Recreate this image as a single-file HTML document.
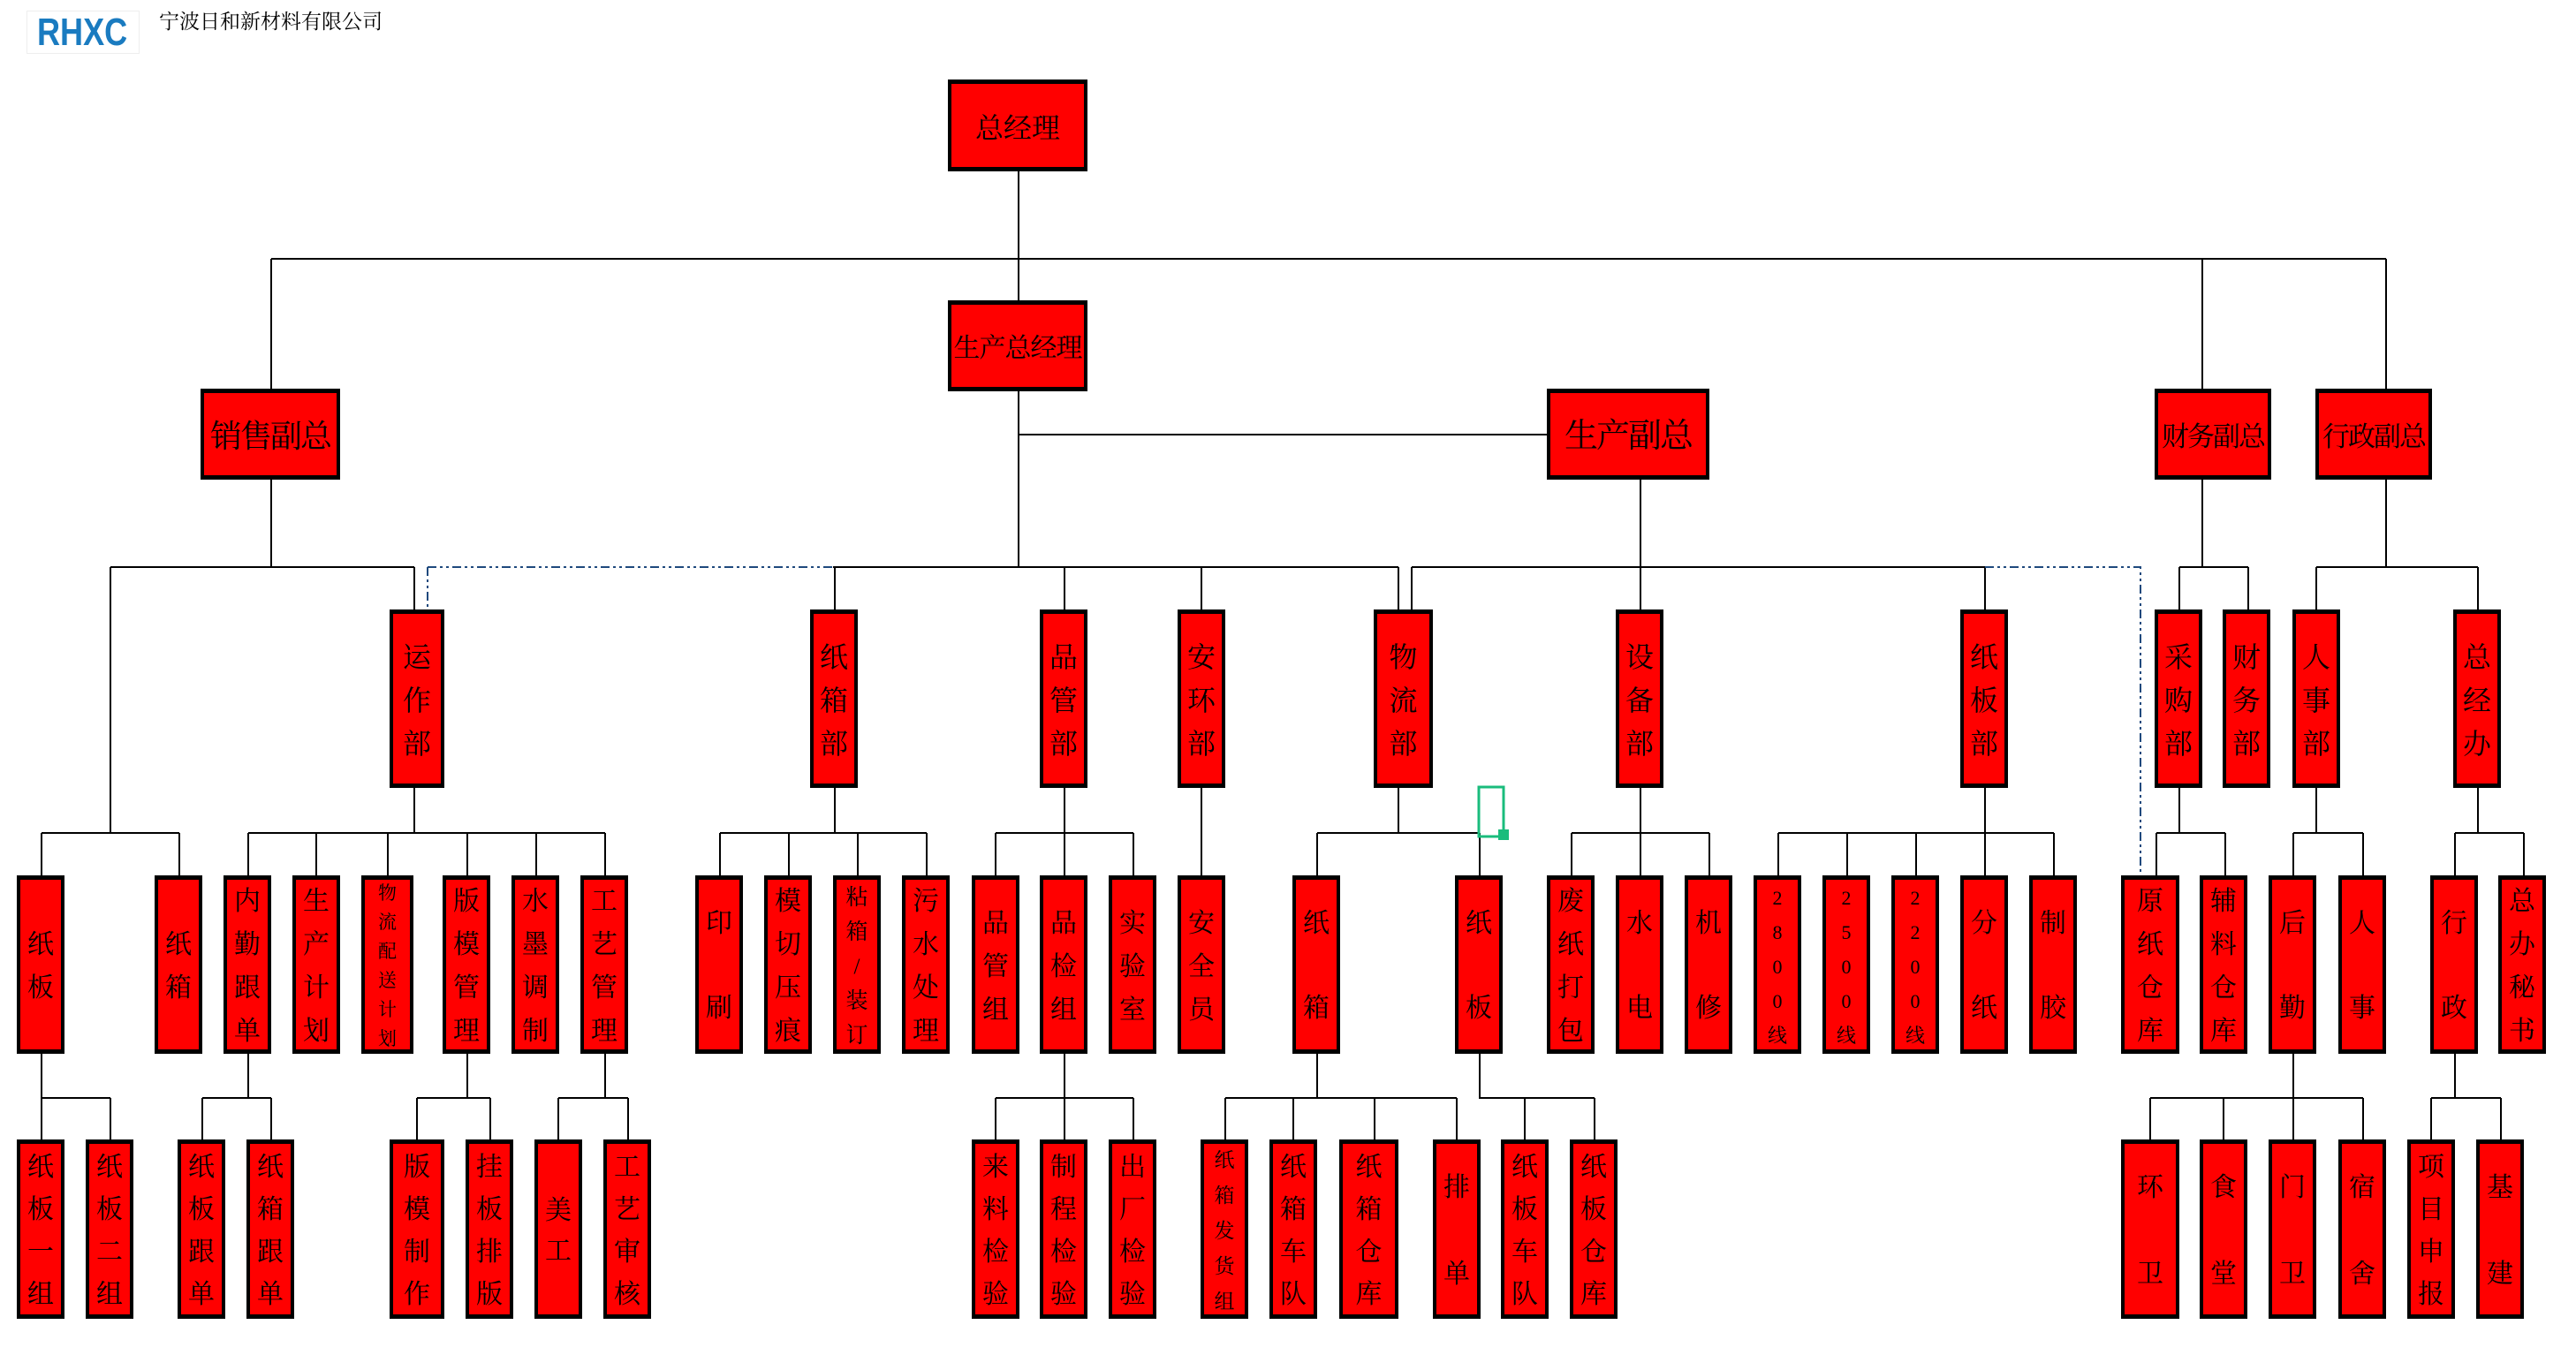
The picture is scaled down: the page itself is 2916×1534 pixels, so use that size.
<!DOCTYPE html>
<html><head><meta charset="utf-8"><style>
html,body{margin:0;padding:0;background:#fff;}
body{width:2916px;height:1534px;position:relative;overflow:hidden;}
.b{position:absolute;background:#ff0000;border:4px solid #000;border-top-width:5px;border-bottom-width:5px;box-sizing:border-box;display:flex;align-items:center;justify-content:center;text-align:center;font-family:"Liberation Serif","Noto Serif CJK SC",serif;color:#000;font-size:30px;line-height:49px;padding-top:4px;}
.l1{top:690px;height:202px;font-size:32px;line-height:49px;}
.l2{top:991px;height:202px;}
.l3{top:1290px;height:203px;line-height:48px;}
.w{line-height:96px;}
.h{font-size:32px;white-space:nowrap;padding-top:6px;}
</style></head><body>
<svg width="2916" height="1534" style="position:absolute;left:0;top:0" xmlns="http://www.w3.org/2000/svg">
<g stroke="#000" stroke-width="2" fill="none">
<path d="M1153 194V340M1153 443V642M307 293H2701M307 293V440M307 543V642M2493 293V440M2493 543V642M2701 293V440M2701 543V642M1153 492H1751M1857 543V642"/>
<path d="M125 642H469M943 642H1583M1598 642H2247"/>
<path d="M469 642V690M945 642V690M1205 642V690M1360 642V690M1583 642V690M1598 642V690M1857 642V690M2247 642V690"/>
<path d="M2467 642H2545M2467 642V690M2545 642V690M2622 642H2805M2622 642V690M2805 642V690"/>
<path d="M125 642V943M47 943H203M47 943V991M203 943V991"/>
<path d="M469 892V943M281 943H685M281 943V991M358 943V991M439 943V991M529 943V991M607 943V991M685 943V991"/>
<path d="M945 892V943M815 943H1049M815 943V991M893 943V991M971 943V991M1049 943V991"/>
<path d="M1205 892V991M1127 943H1283M1127 943V991M1283 943V991M1360 892V991"/>
<path d="M1583 892V943M1491 943H1675M1491 943V991M1675 943V991"/>
<path d="M1857 892V991M1779 943H1935M1779 943V991M1935 943V991"/>
<path d="M2247 892V991M2013 943H2325M2013 943V991M2091 943V991M2169 943V991M2325 943V991"/>
<path d="M2467 892V943M2441 943H2519M2441 943V991M2519 943V991"/>
<path d="M2622 892V943M2596 943H2675M2596 943V991M2675 943V991"/>
<path d="M2805 892V943M2779 943H2857M2779 943V991M2857 943V991"/>
<path d="M47 1193V1290M47 1243H125M125 1243V1290"/>
<path d="M281 1193V1243M229 1243H307M229 1243V1290M307 1243V1290"/>
<path d="M529 1193V1243M472 1243H555M472 1243V1290M555 1243V1290"/>
<path d="M685 1193V1243M632 1243H711M632 1243V1290M711 1243V1290"/>
<path d="M1205 1193V1290M1127 1243H1283M1127 1243V1290M1283 1243V1290"/>
<path d="M1491 1193V1243M1387 1243H1649M1387 1243V1290M1464 1243V1290M1556 1243V1290M1649 1243V1290"/>
<path d="M1675 1193V1243H1805M1726 1243V1290M1805 1243V1290"/>
<path d="M2596 1193V1290M2434 1243H2675M2434 1243V1290M2517 1243V1290M2675 1243V1290"/>
<path d="M2779 1193V1243M2752 1243H2831M2752 1243V1290M2831 1243V1290"/>
</g>
<g stroke="#1f497d" stroke-width="2" fill="none" stroke-dasharray="10 4 3 4 3 4">
<path d="M484 642H943M484 642V690M2247 642H2423V991"/>
</g>
<rect x="1674" y="891" width="28" height="56" fill="none" stroke="#1abc7c" stroke-width="3"/>
<rect x="1696" y="939" width="12" height="12" fill="#1abc7c"/>
</svg>

<div style="position:absolute;left:30px;top:12px;width:128px;height:49px;border:1px solid #eee;box-sizing:border-box;"></div>
<div style="position:absolute;left:42px;top:12px;font-family:'Liberation Sans',sans-serif;font-weight:bold;font-size:44px;color:#1a7bc0;transform:scaleX(0.82);transform-origin:left top;">RHXC</div>
<div style="position:absolute;left:180px;top:6px;font-family:'Liberation Serif','Noto Serif CJK SC',serif;font-size:23px;color:#000;white-space:nowrap;">宁波日和新材料有限公司</div>

<div class="b h" style="left:1073px;top:90px;width:158px;height:104px;">总经理</div>
<div class="b h" style="left:1073px;top:340px;width:158px;height:103px;font-size:30px;letter-spacing:-1px;">生产总经理</div>
<div class="b h" style="left:227px;top:440px;width:158px;height:103px;font-size:36px;letter-spacing:-2px;">销售副总</div>
<div class="b h" style="left:1751px;top:440px;width:184px;height:103px;font-size:38px;letter-spacing:-2px;">生产副总</div>
<div class="b h" style="left:2439px;top:440px;width:132px;height:103px;font-size:31px;letter-spacing:-2px;">财务副总</div>
<div class="b h" style="left:2621px;top:440px;width:132px;height:103px;font-size:31px;letter-spacing:-2px;">行政副总</div>

<div class="b l1" style="left:441px;width:62px;">运<br>作<br>部</div>
<div class="b l1" style="left:917px;width:54px;">纸<br>箱<br>部</div>
<div class="b l1" style="left:1177px;width:54px;">品<br>管<br>部</div>
<div class="b l1" style="left:1333px;width:54px;">安<br>环<br>部</div>
<div class="b l1" style="left:1555px;width:67px;">物<br>流<br>部</div>
<div class="b l1" style="left:1829px;width:54px;">设<br>备<br>部</div>
<div class="b l1" style="left:2219px;width:54px;">纸<br>板<br>部</div>
<div class="b l1" style="left:2439px;width:54px;">采<br>购<br>部</div>
<div class="b l1" style="left:2516px;width:54px;">财<br>务<br>部</div>
<div class="b l1" style="left:2595px;width:54px;">人<br>事<br>部</div>
<div class="b l1" style="left:2777px;width:54px;">总<br>经<br>办</div>

<div class="b l2" style="left:19px;width:54px;">纸<br>板</div>
<div class="b l2" style="left:175px;width:54px;">纸<br>箱</div>
<div class="b l2" style="left:253px;width:54px;">内<br>勤<br>跟<br>单</div>
<div class="b l2" style="left:331px;width:54px;">生<br>产<br>计<br>划</div>
<div class="b l2" style="left:409px;width:59px;font-size:21px;line-height:33px;">物<br>流<br>配<br>送<br>计<br>划</div>
<div class="b l2" style="left:501px;width:54px;">版<br>模<br>管<br>理</div>
<div class="b l2" style="left:579px;width:54px;">水<br>墨<br>调<br>制</div>
<div class="b l2" style="left:657px;width:54px;">工<br>艺<br>管<br>理</div>
<div class="b l2 w" style="left:787px;width:54px;">印<br>刷</div>
<div class="b l2" style="left:865px;width:54px;">模<br>切<br>压<br>痕</div>
<div class="b l2" style="left:943px;width:54px;font-size:25px;line-height:39px;">粘<br>箱<br>/<br>装<br>订</div>
<div class="b l2" style="left:1021px;width:54px;">污<br>水<br>处<br>理</div>
<div class="b l2" style="left:1100px;width:54px;">品<br>管<br>组</div>
<div class="b l2" style="left:1177px;width:54px;">品<br>检<br>组</div>
<div class="b l2" style="left:1255px;width:54px;">实<br>验<br>室</div>
<div class="b l2" style="left:1333px;width:54px;">安<br>全<br>员</div>
<div class="b l2 w" style="left:1463px;width:54px;">纸<br>箱</div>
<div class="b l2 w" style="left:1647px;width:54px;">纸<br>板</div>
<div class="b l2" style="left:1751px;width:54px;">废<br>纸<br>打<br>包</div>
<div class="b l2 w" style="left:1829px;width:54px;">水<br>电</div>
<div class="b l2 w" style="left:1907px;width:54px;">机<br>修</div>
<div class="b l2" style="left:1985px;width:54px;font-size:22px;line-height:39px;">2<br>8<br>0<br>0<br>线</div>
<div class="b l2" style="left:2063px;width:54px;font-size:22px;line-height:39px;">2<br>5<br>0<br>0<br>线</div>
<div class="b l2" style="left:2141px;width:54px;font-size:22px;line-height:39px;">2<br>2<br>0<br>0<br>线</div>
<div class="b l2 w" style="left:2219px;width:54px;">分<br>纸</div>
<div class="b l2 w" style="left:2297px;width:54px;">制<br>胶</div>
<div class="b l2" style="left:2401px;width:66px;">原<br>纸<br>仓<br>库</div>
<div class="b l2" style="left:2490px;width:54px;">辅<br>料<br>仓<br>库</div>
<div class="b l2 w" style="left:2568px;width:54px;">后<br>勤</div>
<div class="b l2 w" style="left:2647px;width:54px;">人<br>事</div>
<div class="b l2 w" style="left:2751px;width:54px;">行<br>政</div>
<div class="b l2" style="left:2828px;width:54px;">总<br>办<br>秘<br>书</div>

<div class="b l3" style="left:19px;width:54px;">纸<br>板<br>一<br>组</div>
<div class="b l3" style="left:97px;width:54px;">纸<br>板<br>二<br>组</div>
<div class="b l3" style="left:201px;width:54px;">纸<br>板<br>跟<br>单</div>
<div class="b l3" style="left:279px;width:54px;">纸<br>箱<br>跟<br>单</div>
<div class="b l3" style="left:441px;width:62px;">版<br>模<br>制<br>作</div>
<div class="b l3" style="left:527px;width:54px;">挂<br>板<br>排<br>版</div>
<div class="b l3" style="left:605px;width:54px;line-height:46px;">美<br>工</div>
<div class="b l3" style="left:683px;width:54px;">工<br>艺<br>审<br>核</div>
<div class="b l3" style="left:1100px;width:54px;">来<br>料<br>检<br>验</div>
<div class="b l3" style="left:1177px;width:54px;">制<br>程<br>检<br>验</div>
<div class="b l3" style="left:1255px;width:54px;">出<br>厂<br>检<br>验</div>
<div class="b l3" style="left:1359px;width:54px;font-size:23px;line-height:40px;">纸<br>箱<br>发<br>货<br>组</div>
<div class="b l3" style="left:1437px;width:54px;">纸<br>箱<br>车<br>队</div>
<div class="b l3" style="left:1516px;width:67px;">纸<br>箱<br>仓<br>库</div>
<div class="b l3" style="left:1622px;width:54px;line-height:98px;">排<br>单</div>
<div class="b l3" style="left:1699px;width:54px;">纸<br>板<br>车<br>队</div>
<div class="b l3" style="left:1777px;width:54px;">纸<br>板<br>仓<br>库</div>
<div class="b l3" style="left:2401px;width:66px;line-height:98px;">环<br>卫</div>
<div class="b l3" style="left:2490px;width:54px;line-height:98px;">食<br>堂</div>
<div class="b l3" style="left:2568px;width:54px;line-height:98px;">门<br>卫</div>
<div class="b l3" style="left:2647px;width:54px;line-height:98px;">宿<br>舍</div>
<div class="b l3" style="left:2725px;width:54px;">项<br>目<br>申<br>报</div>
<div class="b l3" style="left:2803px;width:54px;line-height:98px;">基<br>建</div>
</body></html>
